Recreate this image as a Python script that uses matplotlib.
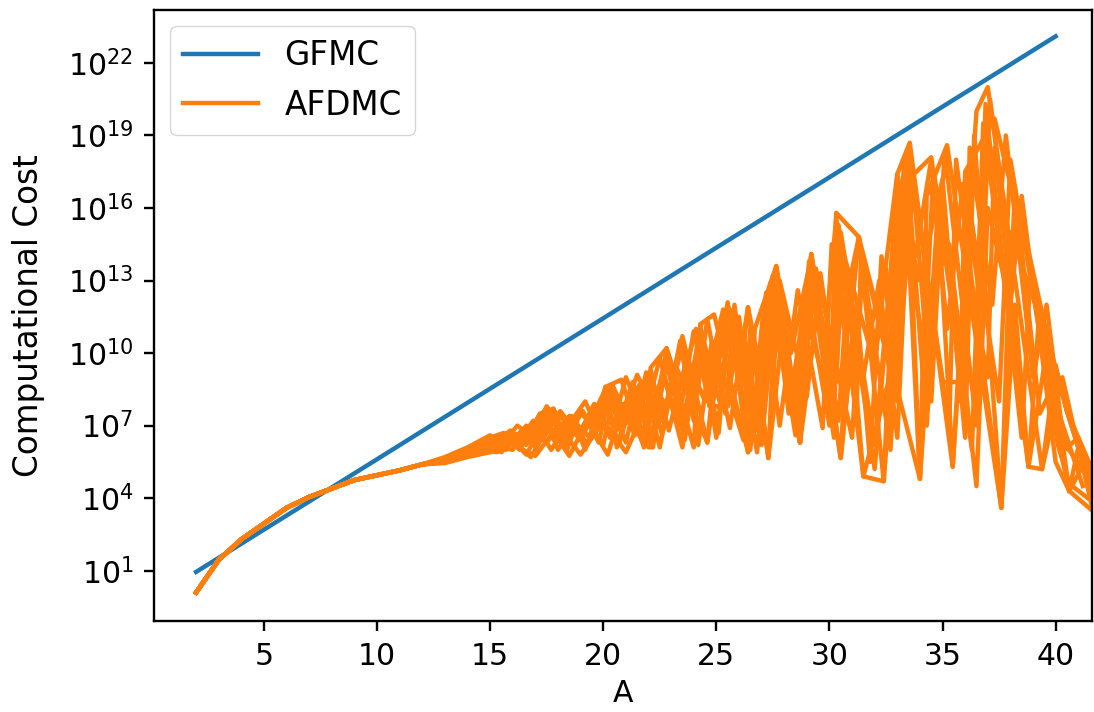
import matplotlib
matplotlib.use('Agg')
import matplotlib.pyplot as plt
import matplotlib.ticker as mticker
import numpy as np

plt.rcParams.update({'font.size': 21.5, 'font.family': 'DejaVu Sans'})

# GFMC cost (log10) vs mass number A
gfmc_A = [2, 5, 10, 15, 20, 25, 30, 35, 40]
gfmc_logc = [0.95, 2.70, 5.61, 8.53, 11.44, 14.36, 17.27, 20.19, 23.10]

# AFDMC: all runs share the same low-A part
afdmc_low_A = [2, 3, 4, 5, 6, 7, 8, 9, 10, 11, 12]
afdmc_low_logc = [0.1, 1.45, 2.3, 2.95, 3.6, 4.05, 4.4, 4.75, 4.95, 5.15, 5.4]

# high-A part of each run: (A, log10 cost)
run1 = [(13, 5.6), (14, 5.9), (15, 6.5), (15.6, 6.7), (16.3, 6.0), (17.2, 7.5), (17.8, 7.7), (18.4, 6.0),
        (19.0, 7.6), (19.9, 6.8), (20.1, 8.6), (20.8, 8.9), (21.8, 6.1), (22.1, 9.4), (22.8, 10.2), (24.0, 6.1),
        (24.3, 11.2), (24.9, 11.6), (26.4, 5.9), (26.7, 11.0), (27.65, 13.6), (28.7, 6.3), (29.2, 14.1),
        (30.5, 5.66), (30.9, 13.0), (31.3, 14.8), (34.0, 4.8), (34.3, 16.5), (35.2, 18.6), (37.6, 3.6),
        (38.0, 15.0), (39.7, 10.4), (40.6, 4.3), (41.0, 6.1), (41.7, 3.3)]
run2 = [(13, 5.5), (14, 5.75), (14.8, 6.3), (15.5, 5.9), (16.4, 6.8), (17.0, 6.1), (17.8, 7.7), (18.4, 6.3),
        (19.0, 7.65), (20.0, 6.2), (20.5, 8.4), (21.4, 6.6), (22.1, 9.3), (22.6, 7.2), (23.5, 10.7), (24.6, 6.3),
        (25.5, 12.1), (26.0, 8.5), (26.4, 11.9), (27.3, 5.66), (27.65, 13.0), (28.4, 8.0), (29.0, 12.5),
        (30.0, 7.0), (30.3, 15.8), (31.3, 14.8), (32.4, 4.7), (33.0, 17.4), (33.55, 18.7), (35.45, 5.3),
        (36.5, 20.0), (37.0, 21.0), (39.4, 5.2), (40.0, 9.5), (40.5, 7.6), (41.7, 4.0)]
run3 = [(13, 5.65), (14, 6.0), (15, 6.1), (15.8, 6.6), (16.6, 5.8), (17.4, 7.2), (18.2, 6.4), (19.0, 7.5),
        (19.9, 6.8), (20.1, 8.6), (21.0, 6.3), (21.6, 8.7), (22.2, 6.1), (22.8, 10.1), (23.6, 7.5), (24.3, 11.0),
        (25.2, 7.8), (25.5, 11.5), (26.8, 6.8), (27.2, 12.5), (28.7, 6.3), (28.9, 11.0), (29.4, 13.5),
        (31.0, 6.5), (31.5, 14.0), (33.0, 8.0), (33.3, 17.0), (34.5, 18.1), (36.3, 6.0), (36.8, 19.5),
        (38.8, 5.3), (39.3, 12.0), (40.2, 6.5), (41.2, 5.2)]
run4 = [(13, 5.45), (14, 5.7), (15, 5.9), (16, 6.4), (16.8, 5.7), (17.6, 7.0), (18.5, 5.75), (19.3, 7.2),
        (20.2, 5.8), (20.9, 7.9), (21.7, 6.4), (22.4, 8.5), (22.9, 6.8), (23.7, 9.8), (24.2, 6.2), (24.8, 10.5),
        (25.6, 6.9), (26.2, 10.8), (27.0, 6.2), (27.6, 12.2), (28.2, 7.5), (29.2, 14.1), (30.4, 7.2),
        (30.8, 12.8), (31.5, 4.9), (32.8, 9.5), (33.1, 16.2), (34.0, 13.0), (35.0, 17.2), (35.8, 8.0),
        (36.2, 16.0), (37.5, 8.0), (38.0, 18.0), (39.9, 7.5), (40.6, 4.3)]
run5 = [(13, 5.6), (14, 5.95), (15, 6.4), (15.7, 6.0), (16.6, 7.0), (17.3, 6.4), (18.1, 7.6), (18.9, 6.6),
        (19.6, 7.9), (20.3, 6.5), (21.0, 9.0), (21.8, 7.2), (22.5, 9.8), (23.3, 7.0), (24.0, 10.9), (24.7, 7.8),
        (25.5, 7.8), (26.0, 11.5), (26.6, 7.2), (27.5, 13.2), (28.5, 7.0), (29.0, 13.0), (30.0, 9.5),
        (30.5, 15.0), (32.0, 6.2), (32.9, 15.2), (33.5, 18.3), (35.0, 8.8), (35.8, 8.8), (36.0, 17.5),
        (37.3, 19.7), (39.7, 10.4), (40.5, 7.6), (41.7, 5.0)]
run6 = [(13, 5.5), (14, 5.85), (15, 6.2), (16, 6.0), (16.9, 7.2), (17.7, 6.0), (18.6, 7.4), (19.2, 6.0),
        (20.0, 8.2), (20.7, 6.2), (21.4, 8.6), (22.1, 6.1), (22.8, 9.6), (23.6, 6.4), (24.3, 10.6), (25.0, 6.5),
        (25.6, 11.4), (26.4, 5.9), (27.6, 12.8), (28.7, 6.3), (29.5, 12.0), (30.5, 5.66), (31.0, 10.5),
        (31.5, 9.0), (32.2, 13.0), (33.0, 6.5), (33.5, 16.5), (34.0, 4.8), (34.8, 16.0), (35.45, 5.3),
        (36.0, 14.0), (37.0, 9.0), (37.3, 18.5), (38.8, 5.3), (39.4, 5.2), (40.3, 9.0), (41.0, 6.1), (41.7, 3.5)]
run7 = [(13, 5.6), (14, 5.9), (15, 6.3), (16, 6.7), (17, 6.3), (18, 7.5), (19, 6.4), (20.1, 8.5), (21, 7.2),
        (22, 9.0), (22.8, 7.8), (23.5, 10.3), (24.5, 8.0), (25.5, 12.0), (26.4, 8.5), (26.6, 10.5), (27.3, 5.8),
        (27.8, 13.0), (29.0, 8.2), (29.6, 13.3), (30.3, 8.8), (30.6, 14.2), (32.0, 9.5), (32.5, 13.5),
        (33.0, 8.5), (33.6, 17.8), (35.3, 7.0), (35.6, 18.0), (37.6, 3.6), (38.2, 16.8), (39.3, 7.5),
        (39.8, 8.5), (41.2, 4.5)]
run8 = [(13, 5.55), (14, 5.8), (15, 6.0), (16, 6.2), (17, 5.75), (18, 7.0), (19, 5.8), (20, 7.2), (21, 5.9),
        (22, 8.0), (22.5, 6.1), (23.2, 9.5), (24.6, 6.3), (25.0, 10.0), (26.2, 6.4), (26.5, 11.0), (27.3, 5.66),
        (28.0, 11.5), (28.7, 6.3), (29.0, 11.5), (30.0, 8.0), (30.4, 13.5), (31.5, 4.9), (32.4, 4.7),
        (33.0, 12.0), (33.3, 18.0), (34.0, 4.8), (34.5, 12.5), (35.3, 14.5), (36.5, 4.5), (37.0, 16.0),
        (38.0, 12.0), (38.5, 16.5), (40.0, 5.5), (40.6, 4.3), (41.3, 5.5), (41.7, 4.2)]
run9 = [(13, 5.7), (14, 6.1), (15, 6.6), (15.5, 6.2), (16.2, 7.0), (16.8, 6.6), (17.5, 7.8), (18.3, 6.8),
        (19.2, 8.0), (19.7, 7.0), (20.3, 8.5), (20.9, 7.6), (21.5, 9.1), (22.3, 7.6), (22.8, 10.2), (23.4, 8.5),
        (24.1, 11.0), (24.6, 9.0), (25.3, 11.8), (26.0, 9.5), (26.4, 11.9), (27.0, 9.0), (27.65, 13.6),
        (28.3, 10.0), (29.2, 14.0), (29.8, 10.5), (30.3, 15.6), (30.9, 11.0), (31.3, 14.8), (32.0, 10.0),
        (33.0, 17.4), (33.8, 14.0), (34.5, 18.0), (35.2, 11.0), (35.9, 17.0), (36.7, 12.0), (37.1, 20.5),
        (38.0, 14.0), (38.5, 15.5), (39.7, 10.4), (40.5, 7.6), (41.0, 6.1), (41.7, 3.6)]
run10 = [(13, 5.5), (14, 5.8), (14.6, 6.0), (15.3, 5.9), (16.0, 6.5), (16.6, 6.2), (17.4, 7.4), (18.0, 6.0),
         (18.8, 7.1), (19.4, 6.5), (20.1, 8.6), (20.6, 6.1), (21.2, 8.1), (22.0, 6.1), (22.7, 9.0), (23.5, 6.1),
         (24.3, 11.2), (24.7, 7.8), (25.5, 7.8), (25.9, 11.0), (26.8, 5.9), (27.5, 12.5), (28.7, 6.3),
         (29.0, 10.0), (29.3, 12.5), (30.5, 5.7), (31.2, 12.0), (31.8, 5.5), (32.3, 14.0), (33.0, 9.0),
         (33.7, 17.0), (34.5, 8.0), (35.0, 16.5), (36.0, 6.5), (36.4, 19.0), (37.6, 3.6), (38.2, 12.0),
         (38.8, 5.3), (39.5, 9.5), (40.6, 4.3), (41.6, 3.5)]
run11 = [(13, 5.6), (14, 5.9), (15, 6.2), (15.9, 6.8), (16.5, 6.3), (17.5, 7.5), (18.3, 6.5), (19.1, 7.6),
         (19.8, 6.3), (20.4, 8.7), (21.3, 6.8), (21.9, 9.2), (22.6, 6.6), (23.4, 10.5), (24.0, 7.2), (24.6, 11.4),
         (25.4, 7.5), (25.8, 12.0), (26.6, 6.5), (27.4, 12.9), (28.5, 6.6), (29.1, 13.8), (30.2, 6.5),
         (30.4, 15.3), (32.0, 5.2), (32.6, 12.0), (33.0, 17.2), (34.2, 10.0), (34.6, 17.6), (36.0, 8.5),
         (36.2, 18.5), (37.2, 12.0), (37.8, 19.0), (39.0, 9.0), (39.6, 12.0), (40.4, 6.0), (41.0, 6.5), (41.7, 4.5)]
run12 = [(13, 5.55), (14, 5.85), (15, 6.1), (16, 6.5), (17, 7.1), (17.5, 6.3), (18.5, 7.4), (19.3, 6.2),
         (19.9, 8.1), (20.6, 6.8), (21.3, 8.8), (22.0, 7.0), (22.8, 9.8), (23.6, 6.9), (24.4, 10.2), (25.1, 6.7),
         (25.6, 11.8), (26.5, 6.0), (27.1, 12.0), (27.8, 7.0), (28.6, 12.6), (29.7, 6.9), (30.1, 14.5),
         (31.2, 7.5), (31.4, 14.2), (32.7, 6.0), (33.4, 18.1), (34.3, 7.0), (35.1, 18.3), (36.5, 7.0),
         (36.9, 20.3), (38.5, 6.5), (38.9, 13.5), (40.1, 6.2), (40.6, 4.6), (41.7, 3.8)]
afdmc_runs = [run1, run2, run3, run4, run5, run6, run7, run8, run9, run10, run11, run12]

fig, ax = plt.subplots(figsize=(10.94, 7.12), dpi=100)
fig.subplots_adjust(left=0.1408, right=0.998, bottom=0.1278, top=0.986)

ax.plot(gfmc_A, 10.0 ** np.array(gfmc_logc), color='C0', lw=3.2, label='GFMC')
for i, run in enumerate(afdmc_runs):
    A = afdmc_low_A + [p[0] for p in run]
    c = afdmc_low_logc + [p[1] for p in run]
    ax.plot(A, 10.0 ** np.array(c), color='C1', lw=3.2, label='AFDMC' if i == 0 else None)

ax.set_yscale('log')
ax.set_xlim(0.14, 41.6)
ax.set_ylim(10 ** -1.08, 10 ** 24.19)
ax.set_xticks([5, 10, 15, 20, 25, 30, 35, 40])
ax.set_yticks([10.0 ** k for k in range(1, 23, 3)])
ax.yaxis.set_minor_locator(mticker.NullLocator())
ax.tick_params(length=7.5, width=1.7, pad=7.5)
for s in ax.spines.values():
    s.set_linewidth(1.7)

ax.set_xlabel('A', labelpad=6)
ax.set_ylabel('Computational Cost', fontsize=23.5, labelpad=16)
ax.legend(loc='upper left', handlelength=2.3, fontsize=23.5)

plt.savefig('out.png', dpi=100)
